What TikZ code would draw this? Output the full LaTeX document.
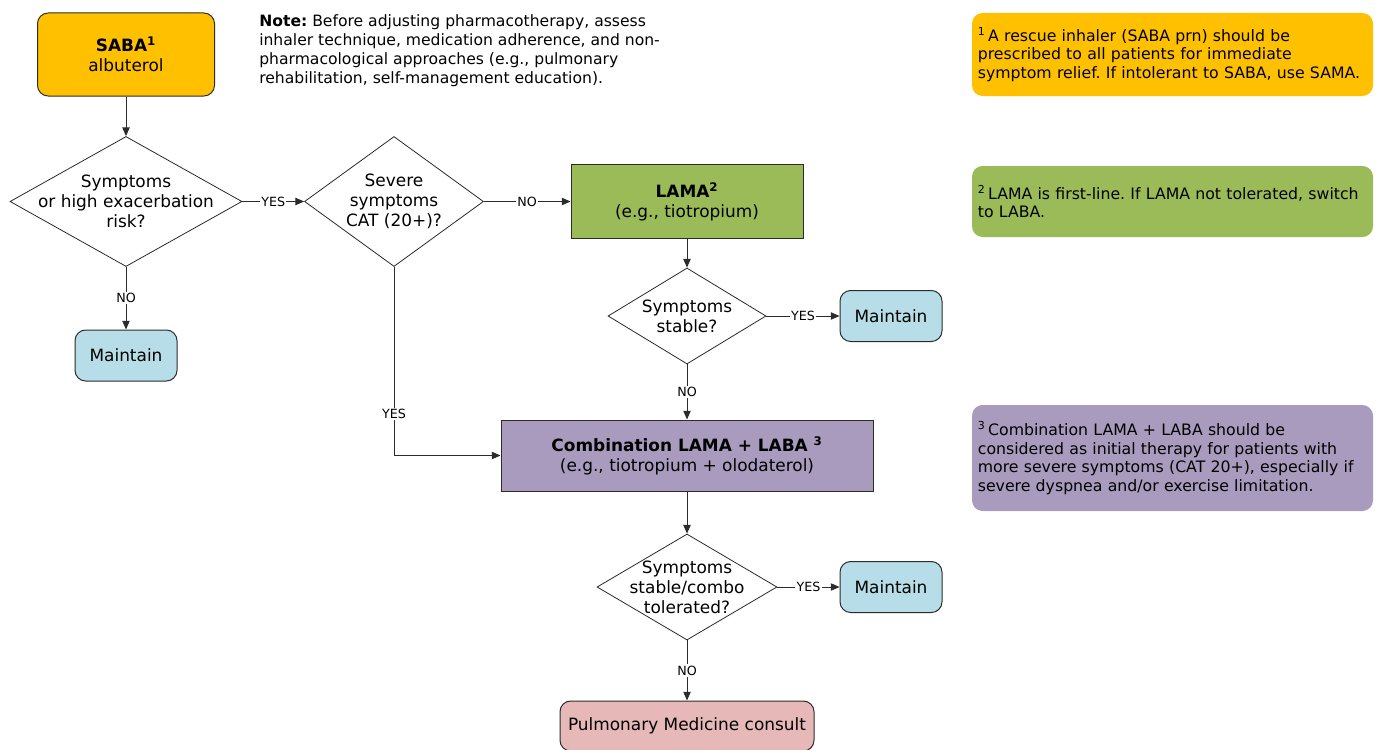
\documentclass[tikz,border=0pt]{standalone}
\usepackage{fontspec}
\setmainfont{DejaVu Sans}
\usetikzlibrary{shapes.geometric,arrows.meta}
\definecolor{sabac}{HTML}{FFC000}
\definecolor{lamac}{HTML}{9BBB59}
\definecolor{comboc}{HTML}{A99BBD}
\definecolor{mainc}{HTML}{B7DEE8}
\definecolor{pulmc}{HTML}{E6B9B8}
\definecolor{edgec}{HTML}{2B2B2B}
\frenchspacing
\begin{document}
\begin{tikzpicture}[x=0.75pt,y=-0.75pt,
  nodefont/.style={font=\fontsize{12.7}{15}\selectfont},
  rbox/.style={nodefont, draw=edgec, line width=0.75pt, rounded corners=8pt, align=center, inner sep=0pt},
  sbox/.style={nodefont, draw=edgec, line width=0.75pt, align=center, inner sep=0pt},
  dec/.style={draw=edgec, line width=0.6pt, diamond, fill=white, inner sep=0pt},
  dtext/.style={nodefont, align=center, inner sep=0pt},
  fnbox/.style={font=\fontsize{11.8}{13.9}\selectfont, rounded corners=8pt, align=left, text width=292pt, inner xsep=4.375pt, inner ysep=0pt, minimum width=300.75pt},
  conn/.style={draw=edgec, line width=0.7pt, -{Triangle[length=6.5pt,width=5.5pt]}},
  lbl/.style={font=\fontsize{9.5}{10}\selectfont, fill=white, inner sep=1pt}
]
\useasboundingbox[fill=white] (0,0) rectangle (1380,749);

% main flow
\node[rbox, fill=sabac, minimum width=132.75pt, minimum height=62.25pt] (saba) at (126,54.5) {\textbf{SABA\textsuperscript{1}}\\albuterol};
\node[anchor=north west, align=left, inner sep=0pt, font=\fontsize{11.7}{14.25}\selectfont] (note) at (259,14) {\textbf{Note:} Before adjusting pharmacotherapy, assess\\inhaler technique, medication adherence, and non-\\pharmacological approaches (e.g., pulmonary\\rehabilitation, self-management education).};

\node[dec, minimum width=174pt, minimum height=97.5pt, label={[dtext]center:Symptoms\\or high exacerbation\\risk?}] (d1) at (126,201.5) {};
\node[dec, minimum width=134.25pt, minimum height=97.5pt, label={[dtext]center:Severe\\symptoms\\CAT (20+)?}] (d2) at (394,201.5) {};
\node[sbox, fill=lamac, minimum width=174pt, minimum height=55.5pt] (lama) at (687,201.5) {\textbf{LAMA\textsuperscript{2}}\\(e.g., tiotropium)};
\node[dec, minimum width=118.5pt, minimum height=72pt, label={[dtext]center:Symptoms\\stable?}] (d3) at (687,316) {};
\node[rbox, fill=mainc, minimum width=76.5pt, minimum height=38.25pt] (m1) at (891,316) {Maintain};
\node[rbox, fill=mainc, minimum width=76.5pt, minimum height=38.25pt] (m0) at (126,355.5) {Maintain};
\node[sbox, fill=comboc, minimum width=279pt, minimum height=53.25pt] (combo) at (687,455.5) {\textbf{Combination LAMA + LABA \textsuperscript{3}}\\(e.g., tiotropium + olodaterol)};
\node[dec, minimum width=135pt, minimum height=79.5pt, label={[dtext]center:Symptoms\\stable/combo\\tolerated?}] (d4) at (687,587) {};
\node[rbox, fill=mainc, minimum width=76.5pt, minimum height=38.25pt] (m2) at (891,587) {Maintain};
\node[rbox, fill=pulmc, minimum width=190.5pt, minimum height=37.5pt] (pulm) at (687,726) {Pulmonary Medicine consult};

% footnotes
\node[fnbox, fill=sabac, minimum height=62.25pt] (fn1) at (1172.5,54.5) {\textsuperscript{1}\,A rescue inhaler (SABA prn) should be\\prescribed to all patients for immediate\\symptom relief. If intolerant to SABA, use SAMA.};
\node[fnbox, fill=lamac, minimum height=53.25pt] (fn2) at (1172.5,201.5) {\textsuperscript{2}\,LAMA is first-line. If LAMA not tolerated, switch\\to LABA.};
\node[fnbox, fill=comboc, minimum height=79.5pt] (fn3) at (1172.5,458) {\textsuperscript{3}\,Combination LAMA + LABA should be\\considered as initial therapy for patients with\\more severe symptoms (CAT 20+), especially if\\severe dyspnea and/or exercise limitation.};

% connectors
\draw[conn] (saba) -- (d1);
\draw[conn] (d1) -- node[lbl]{YES} (d2);
\draw[conn] (d2) -- node[lbl]{NO} (lama);
\draw[conn] (d1) -- node[lbl]{NO} (m0);
\draw[conn] (d2.south) |- node[lbl, pos=0.39]{YES} (combo.west);
\draw[conn] (lama) -- (d3);
\draw[conn] (d3) -- node[lbl]{YES} (m1);
\draw[conn] (d3) -- node[lbl]{NO} (combo);
\draw[conn] (combo) -- (d4);
\draw[conn] (d4) -- node[lbl]{YES} (m2);
\draw[conn] (d4) -- node[lbl]{NO} (pulm);
\end{tikzpicture}
\end{document}
